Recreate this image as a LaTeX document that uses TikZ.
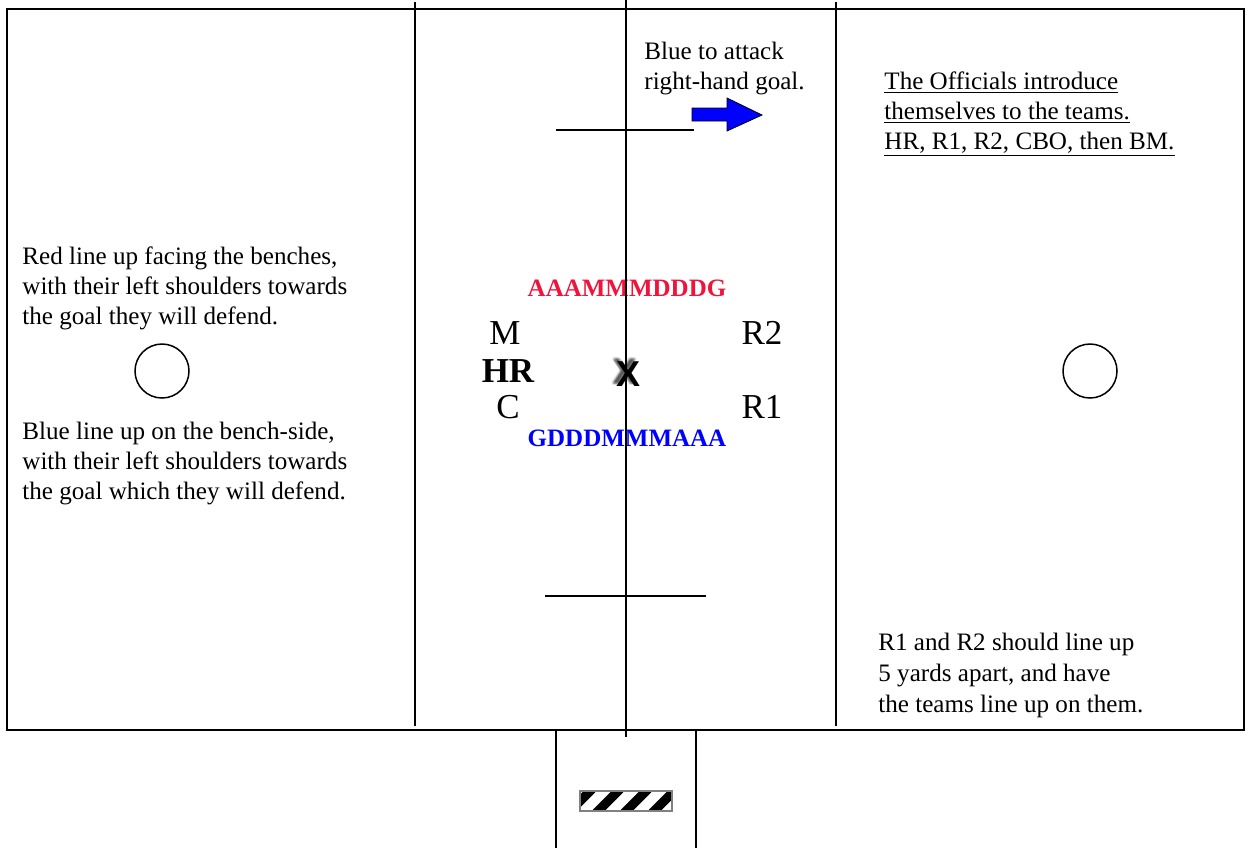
\documentclass[tikz,border=0pt]{standalone}
\usepackage{fontspec}
\setmainfont{Liberation Serif}
\newfontfamily\sansbold{Liberation Sans}
\begin{document}
\begin{tikzpicture}[x=0.5pt,y=-0.5pt,
  field/.style={line width=1pt,black},
  fline/.style={line width=0.75pt,black},
  body/.style={font=\fontsize{12.55}{15}\selectfont,inner sep=0pt,align=left,anchor=base west},
  big/.style={font=\fontsize{17.5}{21}\selectfont,inner sep=0pt,anchor=base},
  team/.style={font=\fontsize{12.5}{15}\selectfont\bfseries,inner sep=0pt,anchor=base},
  xmark/.style={font=\fontsize{18}{21}\sansbold\bfseries,inner sep=0pt,anchor=base}]
\useasboundingbox (0,0) rectangle (1251,848);
\fill[white] (0,0) rectangle (1251,848);
% field
\draw[field] (7,9) rectangle (1244,730);
\coordinate (l1t) at (415,2); \coordinate (l1b) at (415,726);
\coordinate (l2t) at (626,0); \coordinate (l2b) at (626,737);
\coordinate (l3t) at (836,2); \coordinate (l3b) at (836,726);
\draw[fline] (l1t) -- (l1b);
\draw[fline] (l3t) -- (l3b);
% wing lines
\coordinate (wt1) at (556,130); \coordinate (wt2) at (694,130);
\coordinate (wb1) at (545,596); \coordinate (wb2) at (706,596);
\draw[fline] (wt1) -- (wt2);
\draw[fline] (wb1) -- (wb2);
% bench box
\coordinate (bl) at (556,730); \coordinate (bl2) at (556,848);
\coordinate (br) at (696,730); \coordinate (br2) at (696,848);
\draw[fline] (bl) -- (bl2);
\draw[fline] (br) -- (br2);
% hatched table
\begin{scope}
\clip (580,791) rectangle (672,811);
\foreach \s in {568,596,624,652,680} {
  \draw[line width=4.6pt] (\s,813) -- (\s+24,789);
}
\end{scope}
\draw[line width=0.6pt,gray] (580,791) rectangle (672,811);
% circles
\node[draw,circle,line width=0.75pt,minimum size=27pt,inner sep=0pt] (cl) at (162,371) {};
\node[draw,circle,line width=0.75pt,minimum size=27pt,inner sep=0pt] (cr) at (1090,371) {};
% arrow
\filldraw[fill=blue,draw=black,line width=0.4pt]
  (692,108) -- (727,108) -- (727,98) -- (762,115) -- (727,131) -- (727,121) -- (692,121) -- cycle;
% texts
\node[body] (t1) at (644,59) {Blue to attack};
\node[body] (t2) at (644,89) {right-hand goal.};
\node[body] (o1) at (884,89) {\underline{The Officials introduce}};
\node[body] (o2) at (884,119) {\underline{themselves to the teams.}};
\node[body] (o3) at (884,149) {\underline{HR, R1, R2, CBO, then BM.}};
\node[body] (r1) at (22,264) {Red line up facing the benches,};
\node[body] (r2) at (22,294) {with their left shoulders towards};
\node[body] (r3) at (22,324) {the goal they will defend.};
\node[body] (b1) at (22,439) {Blue line up on the bench-side,};
\node[body] (b2) at (22,469) {with their left shoulders towards};
\node[body] (b3) at (22,499) {the goal which they will defend.};
\node[body] (s1) at (878,650) {R1 and R2 should line up};
\node[body] (s2) at (878,681) {5 yards apart, and have};
\node[body] (s3) at (878,712) {the teams line up on them.};
% officials
\node[team,text={rgb,255:red,240;green,20;blue,60}] (red) at (627,296) {AAAMMMDDDG};
\node[team,text=blue] (blu) at (627,446) {GDDDMMMAAA};
\node[big] (m) at (505,344) {M};
\node[big,font=\fontsize{17.5}{21}\selectfont\bfseries] (hr) at (508,382) {HR};
\node[big] (c) at (508,418) {C};
\node[big] (rr2) at (762,344) {R2};
\node[big] (rr1) at (762,418) {R1};
% shadowed X
\foreach \dx/\dy in {-4/-4,-3/-2,-2/-4,-4/-2,-2/-2,-3/-3,-1/-3,-3/-1} {
  \node[xmark,text=black,opacity=0.12] at (627+\dx,386+\dy) {X};
}
\draw[fline] (l2t) -- (l2b);
\node[xmark] (x) at (628,386) {X};
\end{tikzpicture}
\end{document}
